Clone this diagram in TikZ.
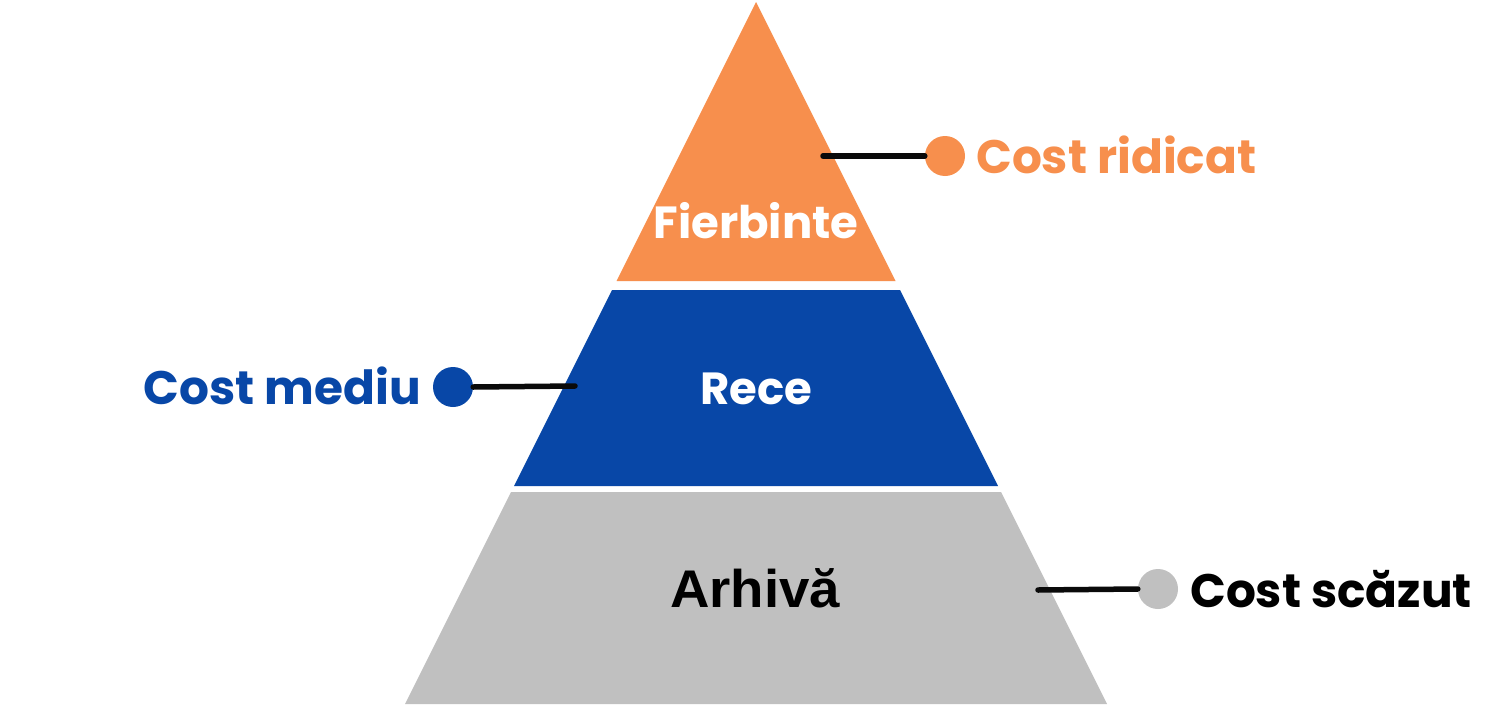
\documentclass[tikz,border=0pt]{standalone}
\usepackage{fontspec}
\setmainfont{Poppins}
\newfontfamily\arhfont{Liberation Sans}
\definecolor{hot}{RGB}{247,143,77}
\definecolor{cold}{RGB}{8,71,167}
\definecolor{arch}{RGB}{192,192,192}
\definecolor{conncol}{RGB}{10,10,10}
\tikzset{
  tier/.style={inner sep=0pt, font=\fontsize{45}{50}\selectfont\bfseries},
  lbl/.style={inner sep=0pt, font=\fontsize{47}{50}\selectfont\bfseries},
  dot/.style={circle, inner sep=0pt, minimum size=40pt},
  conn/.style={draw=conncol, line width=5.5pt, line cap=round}
}
\begin{document}
\begin{tikzpicture}[x=1pt,y=-1pt]
\useasboundingbox[fill=white] (0,0) rectangle (1496,704);
% tiers
\fill[hot] (756,2) -- (895.5,281) -- (616.5,281) -- cycle;
\fill[cold] (612,290) -- (900,290) -- (998,486) -- (514,486) -- cycle;
\fill[arch] (511,492) -- (1001,492) -- (1107,704) -- (405,704) -- cycle;
\node[tier, text=white, anchor=base] (hot) at (756,238) {Fierbinte};
\node[tier, text=white, anchor=base] (cold) at (756,404) {Rece};
\node[inner sep=0pt, anchor=base, xscale=1.03, font=\arhfont\fontsize{53}{56}\selectfont\bfseries] (arc) at (755,607) {Arhivă};
% connectors
\coordinate (ho) at (823,156);
\node[dot, fill=hot] (hd) at (945,156) {};
\draw[conn] (ho) -- (hd.west);
\node[lbl, text=hot, anchor=base west] (hl) at (976,173) {Cost ridicat};

\coordinate (co) at (575,386);
\node[dot, fill=cold] (cd) at (453,387) {};
\draw[conn] (co) -- (cd.east);
\node[lbl, text=cold, anchor=base east] (cl) at (421,404) {Cost mediu};

\coordinate (ao) at (1038,590);
\node[dot, fill=arch] (ad) at (1158,589) {};
\draw[conn] (ao) -- (ad.west);
\node[lbl, text=black, anchor=base west] (al) at (1190,607) {Cost scăzut};
\end{tikzpicture}
\end{document}
